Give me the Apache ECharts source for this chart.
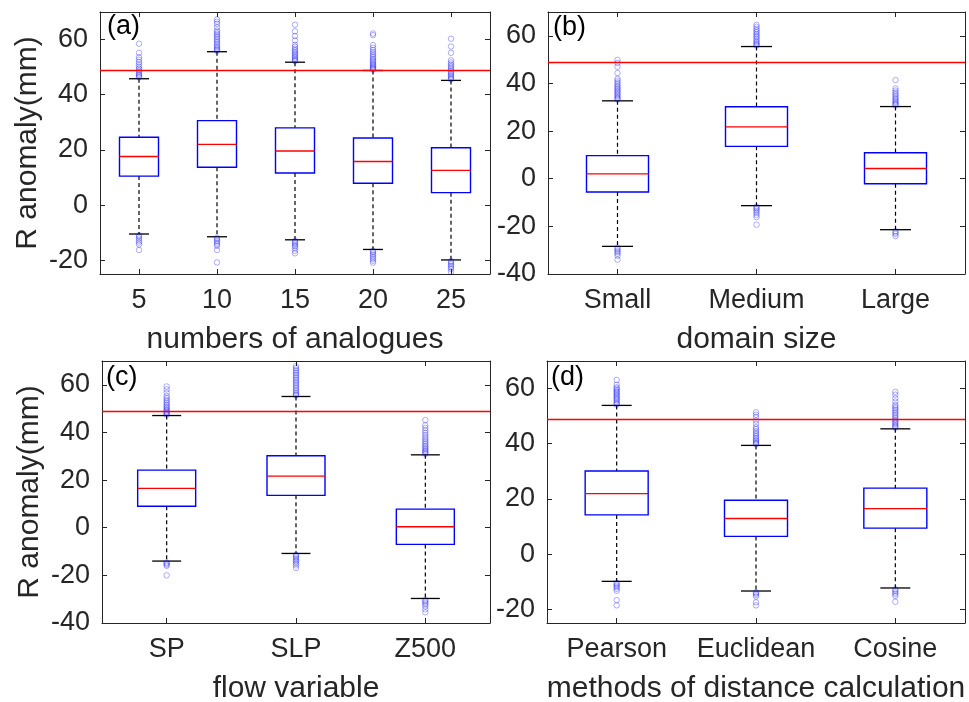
<!DOCTYPE html>
<html>
<head>
<meta charset="utf-8">
<script src="https://cdn.jsdelivr.net/npm/echarts@6/dist/echarts.min.js"></script>
<style>
  html, body { margin: 0; padding: 0; background: #fff; }
  #chart { width: 969px; height: 702px; }
</style>
</head>
<body>
<div id="chart"></div>
<script>
// category labels
const catsA = ['5', '10', '15', '20', '25']
const catsB = ['Small', 'Medium', 'Large']
const catsC = ['SP', 'SLP', 'Z500']
const catsD = ['Pearson', 'Euclidean', 'Cosine']

// box stats: [lower whisker, Q1, median, Q3, upper whisker]
const statsA = [
    [-10.5, 10.5, 17.6, 24.6, 45.8],
    [-11.5, 13.7, 22.0, 30.6, 55.6],
    [-12.6, 11.6, 19.6, 28.0, 51.8],
    [-16.1, 7.9, 15.8, 24.3, 48.8],
    [-19.9, 4.5, 12.6, 20.8, 45.2]
]
const statsB = [
    [-28.4, -5.6, 2.0, 9.7, 32.7],
    [-11.3, 13.6, 21.8, 30.2, 55.5],
    [-21.4, -2.1, 4.3, 10.9, 30.3]
]
const statsC = [
    [-14.0, 9.0, 16.5, 24.2, 47.1],
    [-10.8, 13.6, 21.7, 30.2, 55.1],
    [-29.7, -7.0, 0.4, 7.8, 30.6]
]
const statsD = [
    [-9.9, 14.2, 21.9, 30.1, 53.9],
    [-13.4, 6.4, 12.9, 19.5, 39.4],
    [-12.3, 9.4, 16.5, 23.9, 45.4]
]

// outliers per category
const outA = [
    [46.3, 46.8, 47.2, 47.7, 48.3, 48.9, 49.5, 50.2, 51.0, 51.8, 52.7, 53.6, 55.2, 58.5,
        -11.0, -11.5, -12.1, -12.9, -13.6, -14.3, -16.3],
    [55.9, 56.3, 56.8, 57.3, 57.9, 58.5, 59.1, 59.7, 60.3, 60.9, 61.5, 62.1, 62.7, 63.3, 64.5, 65.7, 66.5, 67.3,
        -11.9, -12.4, -13.0, -13.6, -14.2, -14.8, -16.3, -20.8],
    [52.2, 52.6, 53.0, 53.5, 54.0, 54.5, 55.0, 55.5, 56.1, 56.7, 57.4, 58.1, 59.7, 61.3, 63.0, 65.4,
        -13.0, -13.5, -14.0, -14.5, -15.0, -15.7, -16.6, -17.5],
    [49.1, 49.4, 49.8, 50.2, 50.6, 51.0, 51.5, 52.0, 52.5, 53.0, 53.6, 54.2, 54.8, 55.5, 56.2, 57.0, 58.0, 61.6, 62.2,
        -16.5, -17.0, -17.6, -18.2, -18.9, -19.5, -20.2, -20.9],
    [45.6, 46.0, 46.5, 47.0, 47.5, 48.0, 48.6, 49.2, 49.8, 50.4, 51.0, 51.7, 52.5, 55.2, 57.5, 60.3,
        -20.3, -20.8, -21.4, -22.0, -22.6, -23.2, -24.2]
]
const outB = [
    [33.2, 33.7, 34.2, 34.8, 35.4, 36.0, 36.6, 37.2, 37.8, 38.4, 39.0, 39.7, 40.4, 41.2, 42.0, 44.4, 47.0, 48.6, 49.9,
        -29.0, -29.6, -30.2, -30.8, -31.5, -32.3, -34.0],
    [55.9, 56.3, 56.8, 57.4, 58.0, 58.8, 59.5, 60.1, 60.8, 61.5, 62.2, 62.9, 63.8, 64.6,
        -11.8, -12.3, -12.9, -13.6, -14.4, -15.2, -16.1, -19.3],
    [30.8, 31.3, 31.8, 32.3, 32.9, 33.5, 34.1, 34.8, 35.5, 36.2, 37.0, 37.9, 41.4,
        -22.0, -22.6, -23.2, -24.1]
]
const outC = [
    [47.5, 47.9, 48.3, 48.7, 49.2, 49.7, 50.3, 50.9, 51.5, 52.2, 52.9, 53.6, 54.4, 55.3, 56.7, 58.1, 59.3,
        -14.6, -15.0, -15.5, -16.0, -20.0],
    [55.5, 55.9, 56.5, 57.2, 57.9, 58.6, 59.3, 60.0, 60.7, 61.4, 62.1, 62.8, 63.5, 64.2, 64.9, 65.6, 66.3, 67.0, 67.8,
        -11.3, -11.9, -12.5, -13.1, -13.7, -14.3, -15.0, -15.8, -16.9],
    [31.0, 31.5, 32.0, 32.5, 33.1, 33.7, 34.3, 35.0, 35.7, 36.4, 37.2, 38.0, 38.9, 39.8, 40.8, 41.9, 43.0, 45.2,
        -30.3, -30.9, -31.5, -32.2, -33.0, -34.2, -35.5]
]
const outD = [
    [54.2, 54.6, 55.1, 55.7, 56.2, 56.6, 57.1, 57.6, 58.1, 58.6, 59.0, 59.5, 60.0, 60.5, 61.4, 63.1,
        -10.5, -11.0, -11.5, -12.0, -12.6, -13.3, -16.7, -18.6],
    [39.8, 40.2, 40.6, 41.1, 41.6, 42.1, 42.7, 43.3, 43.9, 44.6, 45.3, 46.0, 47.2, 48.4, 49.6, 50.5, 51.4,
        -13.9, -14.3, -14.8, -15.4, -17.5, -18.6],
    [45.8, 46.2, 46.7, 47.2, 47.7, 48.2, 48.7, 49.3, 49.9, 50.5, 51.1, 51.7, 52.3, 52.9, 53.5, 54.1, 55.3, 56.5, 57.8, 58.8,
        -12.8, -13.3, -13.9, -14.5, -15.2, -17.3]
]

// y ticks
const yTicksA = [-20, 0, 20, 40, 60]
const yTicksB = [-40, -20, 0, 20, 40, 60]
const yTicksC = [-40, -20, 0, 20, 40, 60]
const yTicksD = [-20, 0, 20, 40, 60]

// threshold line
const refLine = 49

const axisColor = '#262626'
const font = 'Liberation Sans, Arial, Helvetica, sans-serif'

const panels = [
    { label: '(a)', cats: catsA, stats: statsA, outs: outA, ticks: yTicksA, min: -25, max: 70, xName: 'numbers of analogues', yName: 'R anomaly(mm)',
        grid: { left: 100, top: 12, width: 390, height: 262 }, boxPx: 39, capPx: 20, labelPos: [107, 13] },
    { label: '(b)', cats: catsB, stats: statsB, outs: outB, ticks: yTicksB, min: -40, max: 70, xName: 'domain size', yName: '',
        grid: { left: 548, top: 12, width: 417, height: 262 }, boxPx: 62, capPx: 31, labelPos: [553, 14] },
    { label: '(c)', cats: catsC, stats: statsC, outs: outC, ticks: yTicksC, min: -40, max: 70, xName: 'flow variable', yName: 'R anomaly(mm)',
        grid: { left: 102, top: 361, width: 388, height: 262 }, boxPx: 58, capPx: 29, labelPos: [106, 364] },
    { label: '(d)', cats: catsD, stats: statsD, outs: outD, ticks: yTicksD, min: -25, max: 70, xName: 'methods of distance calculation', yName: '',
        grid: { left: 547, top: 361, width: 418, height: 262 }, boxPx: 63, capPx: 30, labelPos: [551, 364] }
]

// 画箱线图
const makeRender = (boxPx, capPx) => (params, api) => {
    const x = api.value(0)
    const lo = api.coord([x, api.value(1)])
    const q1 = api.coord([x, api.value(2)])
    const md = api.coord([x, api.value(3)])
    const q3 = api.coord([x, api.value(4)])
    const hi = api.coord([x, api.value(5)])
    const cx = lo[0]
    const hw = boxPx / 2
    const cw = capPx / 2
    const dash = { stroke: '#000', lineWidth: 1.2, lineDash: [4, 3] }
    const solid = { stroke: '#000', lineWidth: 1.3 }
    return {
        type: 'group',
        children: [
            { type: 'line', shape: { x1: cx, y1: hi[1], x2: cx, y2: q3[1] }, style: dash },
            { type: 'line', shape: { x1: cx, y1: q1[1], x2: cx, y2: lo[1] }, style: dash },
            { type: 'line', shape: { x1: cx - cw, y1: hi[1], x2: cx + cw, y2: hi[1] }, style: solid },
            { type: 'line', shape: { x1: cx - cw, y1: lo[1], x2: cx + cw, y2: lo[1] }, style: solid },
            { type: 'rect', shape: { x: cx - hw, y: q3[1], width: boxPx, height: q1[1] - q3[1] },
                style: { fill: 'none', stroke: '#0000ff', lineWidth: 1.4 } },
            { type: 'line', shape: { x1: cx - hw, y1: md[1], x2: cx + hw, y2: md[1] },
                style: { stroke: '#ff0000', lineWidth: 1.3 } }
        ]
    }
}

const option = {
    animation: false,
    textStyle: { fontFamily: font },
    title: [],
    grid: [],
    xAxis: [],
    yAxis: [],
    series: []
}

panels.forEach((p, gi) => {
    option.title.push({
        text: p.label, left: p.labelPos[0], top: p.labelPos[1], padding: 0,
        textStyle: { fontSize: 27, fontWeight: 'normal', color: '#000', fontFamily: font }
    })
    option.grid.push(Object.assign({ containLabel: false, outerBoundsMode: 'none' }, p.grid))

    const lineStyle = { color: axisColor, width: 1 }
    option.xAxis.push({
        type: 'category', gridIndex: gi, data: p.cats, position: 'bottom',
        name: p.xName, nameLocation: 'middle', nameGap: 51,
        nameTextStyle: { fontSize: 30, color: axisColor, fontFamily: font },
        axisLine: { show: true, onZero: false, lineStyle },
        axisTick: { show: true, inside: true, length: 5, alignWithLabel: true, lineStyle },
        axisLabel: { fontSize: 27, color: axisColor, margin: 13, interval: 0, hideOverlap: false, fontFamily: font },
        splitLine: { show: false }
    })
    option.xAxis.push({
        type: 'category', gridIndex: gi, data: p.cats, position: 'top',
        axisLine: { show: true, onZero: false, lineStyle },
        axisTick: { show: true, inside: true, length: 5, alignWithLabel: true, lineStyle },
        axisLabel: { show: false },
        splitLine: { show: false }
    })
    option.yAxis.push({
        type: 'value', gridIndex: gi, min: p.min, max: p.max, position: 'left',
        name: p.yName, nameLocation: 'middle', nameGap: 57,
        nameTextStyle: { fontSize: 30, color: axisColor, fontFamily: font },
        axisLine: { show: true, onZero: false, lineStyle },
        axisTick: { show: true, inside: true, length: 5, customValues: p.ticks, lineStyle },
        axisLabel: { customValues: p.ticks, fontSize: 27, color: axisColor, margin: 12, fontFamily: font },
        splitLine: { show: false }
    })
    option.yAxis.push({
        type: 'value', gridIndex: gi, min: p.min, max: p.max, position: 'right',
        axisLine: { show: true, onZero: false, lineStyle },
        axisTick: { show: true, inside: true, length: 5, customValues: p.ticks, lineStyle },
        axisLabel: { show: false },
        splitLine: { show: false }
    })

    option.series.push({
        type: 'custom',
        xAxisIndex: gi * 2,
        yAxisIndex: gi * 2,
        renderItem: makeRender(p.boxPx, p.capPx),
        encode: { x: 0, y: [1, 2, 3, 4, 5] },
        data: p.stats.map((s, i) => [i].concat(s)),
        silent: true,
        z: 2,
        markLine: {
            silent: true,
            symbol: 'none',
            label: { show: false },
            lineStyle: { color: '#ff0000', width: 1.3, type: 'solid' },
            data: [{ yAxis: refLine }]
        }
    })

    const pts = []
    p.outs.forEach((arr, i) => arr.forEach(v => pts.push([i, v])))
    option.series.push({
        type: 'scatter',
        xAxisIndex: gi * 2,
        yAxisIndex: gi * 2,
        data: pts,
        symbol: 'circle',
        symbolSize: 5.5,
        silent: true,
        z: 3,
        itemStyle: { color: 'rgba(0,0,0,0)', borderColor: 'rgba(0,0,255,0.4)', borderWidth: 1 }
    })
})

const chart = echarts.init(document.getElementById('chart'))
chart.setOption(option)
</script>
</body>
</html>
